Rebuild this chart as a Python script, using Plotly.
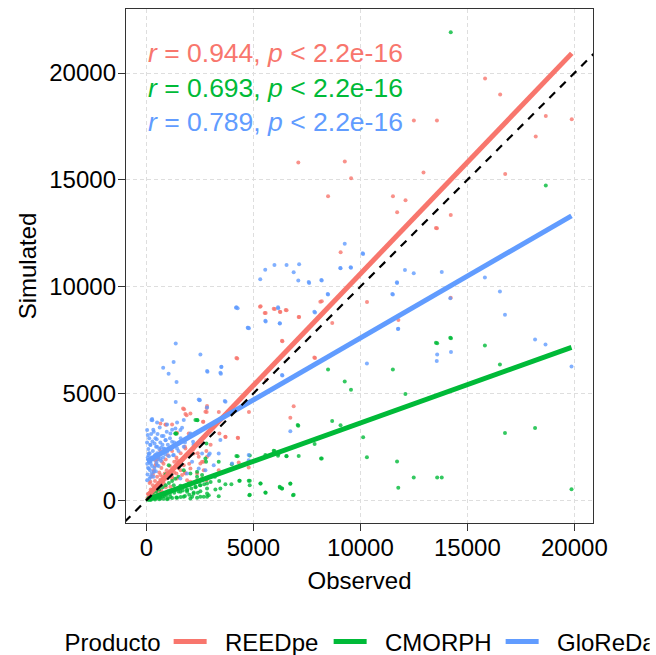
import plotly.graph_objects as go

# ---------------- data ----------------
products = ["REEDpe", "CMORPH", "GloReDa"]
colors = ["#F8766D", "#00BA38", "#619CFF"]

# REEDpe observed / simulated
reed_obs = [15826, 16531, 12499, 13576, 18664, 19877, 18194, 7098, 9270, 9564, 12949, 16766,
            8488, 11521, 12108, 11717, 14222, 13576, 9075, 10308, 8194, 5337, 5572, 6002, 6237,
            6550, 7137, 8683, 14222, 11775, 13530, 5309, 5527, 5947, 6259, 6508, 7115, 6337,
            4204, 7847, 5590, 8127, 6881, 6725, 4790, 4282, 3695, 6354, 7879, 4243,
            1760, 1877, 2815, 2815, 3383, 2658, 919, 2833, 2756, 2647, 3410, 3690, 4266,
            2833, 3378, 4313, 4780, 2600, 654, 1199, 1822, 2211, 2444, 2678, 1744, 2055,
            343, 654, 965, 1199, 187, 498, 810, 1121, 1432, 1666, 1900, 265, 654, 1277,
            420, 732, 2055, 2367, 2600, 1713, 1822, 2055, 887, 1432, 1977, 2522, 2678, 2367,
            2803, 2055, 1432, 1822,
            50, 100, 150, 200, 250, 300, 350, 400, 450, 500, 550, 600, 650, 700, 750, 800,
            850, 900, 950, 1000, 1100, 1200, 1300, 1400, 1500, 1600, 1700, 1800, 1900, 2000,
            2200, 2400, 2600, 2800, 3000, 150, 250, 350, 450, 550, 650, 300, 400, 500, 600,
            700, 800, 900, 1000, 1200, 1300, 1400, 1600, 1800, 200, 350, 500, 700, 900]
reed_sim = [19744, 18994, 17776, 17776, 17994, 17838, 17026, 15807, 15854, 15073, 15339, 15277,
            14230, 14230, 14042, 13480, 13355, 12730, 11606, 9278, 9310, 9075, 8763, 8950, 8825,
            8888, 8575, 8294, 9481, 8435, 12746, 9060, 8763, 8966, 8810, 8903, 8575, 7466,
            6654, 6685, 5623, 9294, 4393, 3863, 4128, 2913, 2960, 7446, 6651, 6636,
            4252, 3972, 4313, 4128, 4128, 3676, 3536, 4405, 4139, 3671, 3124, 2968, 2921,
            2031, 1406, 1765, 1531, 1796, 3593, 3546, 2421, 2187, 2031, 1796, 1640, 1484,
            1328, 1172, 1250, 1015, 859, 703, 781, 625, 1015, 1172, 937, 469, 391, 515,
            1874, 1796, 859, 937, 1015, 4296, 4030, 4061, 3546, 3155, 3124, 1718, 1406, 1250,
            937, 2187, 1874, 1250,
            100, 300, 200, 500, 350, 700, 450, 900, 600, 1100, 800, 1300, 950, 1500, 1100, 1700,
            1250, 1900, 1400, 2100, 1600, 2300, 1800, 2000, 1500, 2200, 1900, 2500, 2100, 1700,
            2400, 2200, 2700, 2300, 2600, 800, 1100, 1400, 1700, 2000, 2300, 1200, 1600, 1900, 800,
            700, 900, 1000, 1200, 1100, 1300, 1250, 1400, 1300, 150, 250, 400, 450, 600]

# CMORPH observed / simulated
cmorph_obs = [14222, 18664, 13530, 14200, 15818, 16520, 16756, 18162, 19865, 13587, 14233, 13587,
              13802, 12492, 11770, 11712, 12102, 11516, 10304, 10128, 8487, 9267, 9560, 8680,
              9072, 7097, 7859, 8193, 6549, 5982, 6158, 6725, 6881, 5337, 5572, 6237, 4830, 4340,
              4830, 3988, 4262, 4830, 2385, 1408, 7068, 5947, 6150, 6539, 7115, 8158, 5558, 4204,
              3378, 2787, 5325, 5558, 6228, 6337, 6726, 6850, 4780, 4826, 4359, 3970, 3690, 3456,
              3223, 2833, 2833, 2833, 3378, 4811, 2522, 1355, 2289, 1043, 1744, 2055, 2367,
              187, 498, 810, 1121, 1432, 1588, 1900, 2211, 2522, 343, 654, 965, 1744, 2055, 2367,
              2678, 2912, 1277, 1588, 1977, 2289, 2367, 1355, 2803, 2756, 2367, 2600, 1900, 2133,
              2522, 2834, 6334,
              50, 100, 150, 200, 250, 300, 350, 400, 450, 500, 550, 600, 650, 700, 750, 800, 850,
              900, 950, 1000, 1100, 1200, 1300, 1400, 1500, 1600, 1700, 1800, 1900, 2000, 2100,
              2200, 2300, 2400, 2500, 2600, 2700, 2800, 3000, 3200, 3400, 150, 300, 450, 600, 750,
              900, 1050, 1200, 1350, 1500, 200, 400, 600, 800, 1000, 1200, 1400, 1600, 1800, 2000,
              2200, 2400, 500, 700, 900]
cmorph_sim = [21915, 14730, 7373, 7607, 7243, 6355, 3147, 3380, 514, 7352, 7586, 1059,
              1059, 1059, 575, 1807, 4968, 6122, 2009, 2944, 6122, 5561, 5171, 3707,
              3505, 3489, 2632, 1947, 2056, 2305, 2150, 763, 249, 778, 343, 592, 249, 903,
              903, 1682, 2056, 2087, 3738, 3115, 3515, 2312, 2078, 2062, 2062, 1953, 2109, 2062,
              1796, 1796, 781, 359, 625, 547, 781, 234, 906, 703, 906, 750, 750, 547,
              500, 781, 547, 156, 187, 234, 703, 3124, 3749, 1640, 1406, 1250, 1093,
              312, 234, 266, 156, 109, 391, 469, 359, 422, 109, 78, 47, 156, 78, 109,
              156, 234, 703, 672, 781, 625, 3749, 3124, 2655, 1953, 1328, 1172, 391, 156,
              156, 312, 545,
              20, 60, 30, 100, 50, 130, 80, 160, 90, 200, 120, 230, 150, 280, 180, 300, 200,
              350, 240, 400, 300, 450, 350, 520, 400, 580, 450, 650, 500, 700, 550,
              800, 600, 900, 700, 950, 750, 1000, 850, 1100, 900, 200, 350, 400, 500, 600,
              700, 800, 900, 1000, 1100, 10, 30, 40, 60, 80, 100, 120, 150, 200, 250,
              300, 350, 600, 900, 1200]

# GloReDa observed / simulated
glo_obs = [9267, 5552, 5982, 6549, 7136, 5318, 6881, 7097, 7605, 8193, 9072, 9560, 10128, 12082,
           12492, 13802, 15818, 11712, 11516, 8487, 16520, 16756, 4262, 7879, 6158, 4790, 5572,
           6237, 11770, 1369, 782, 1036, 1271, 1408, 2522, 2854, 3500, 3480, 1369, 2483, 3695,
           6354, 10304, 13587, 13568, 14233, 18162, 18650, 19865, 6725, 273, 4204, 4733, 6150,
           5558, 6228, 7847, 2834, 3456, 3503, 6337, 2444, 9061, 9544, 10104, 11708, 11490,
           11755, 14200, 8174, 7582, 4188, 4749, 8470, 3659, 2833, 2958, 3378, 4001, 3145,
           4780, 4780, 2756, 3456, 265, 498, 732, 31, 343, 1121, 1744, 1355, 1588, 2055,
           2180, 887, 1199, 187, 498, 810, 109, 420, 654, 187, 498, 109, 343, 187, 31, 965,
           1277, 1432, 1744, 1900, 2133, 2444, 1588, 2491, 234, 965, 1432, 1666, 2600, 2912,
           50, 80, 120, 60, 150, 200, 250, 300, 180, 90, 350, 400, 450, 500, 550, 600, 650,
           700, 750, 800, 850, 900, 950, 1000, 1100, 1200, 1300, 130, 220, 320, 420, 520, 620,
           720, 40, 100, 170, 260, 370, 470, 570, 680, 780, 880, 30, 60, 140, 240, 330, 440,
           280, 380, 480, 580, 680, 1050, 1150, 1250, 1400, 1500, 1600, 1800, 2000, 2200, 2400]
glo_sim = [12010, 10795, 11014, 11014, 11043, 10343, 10670, 10281, 10172, 10281, 10857, 10888,
           11528, 10780, 10624, 10686, 10421, 10172, 9626, 9626, 9767, 8677, 8988, 8785, 8988,
           8053, 8365, 8271, 8022, 7336, 6199, 5920, 6465, 5529, 6823, 6012, 6230, 5920, 4594,
           4673, 4610, 5841, 6402, 6823, 6511, 6932, 7523, 7290, 6262, 3224, 3738, 9028, 8076,
           9028, 8404, 8279, 8825, 6045, 5967, 6248, 5858, 4717, 10872, 10903, 11559, 10200,
           9653, 8013, 9450, 10309, 10216, 9013, 8076, 9653, 4639, 4342, 2187, 2187, 1718, 1640,
           2109, 1874, 1406, 2812, 3796, 3640, 3749, 3280, 3202, 3124, 3749, 3358, 3280, 3124,
           2734, 2812, 2734, 2577, 2499, 2421, 2187, 2109, 1953, 1796, 1640, 1484, 1328, 1093,
           937, 2265, 2109, 2421, 2499, 1250, 1796, 1484, 1015, 4686, 3749, 3546, 3640, 3390,
           2187, 2109,
           1200, 1500, 1800, 2000, 2200, 1700, 2000, 2300, 2600, 2400, 1900, 2100, 2500, 2200,
           1900, 2400, 2700, 2200, 2600, 3000, 2400, 2800, 3200, 2600, 2900, 3300, 2700, 2900,
           3100, 3300, 2900, 3100, 3400, 3000, 1700, 2100, 1400, 1600, 1500, 1750, 1600, 1850,
           2000, 2150, 2700, 3050, 1000, 1250, 1100, 1350, 2750, 2650, 2850, 2150, 2450, 2050,
           2400, 2100, 2600, 2300, 2900, 2700, 3000, 2600, 3200]

# linear fits (intercept, slope)
fit_intercept = [150, 20, 1794]
fit_slope = [1.045, 0.359, 0.58]

# correlation labels
cor_r = ["0.944", "0.693", "0.789"]
cor_p = "2.2e-16"
label_y = [20930, 19290, 17700]

x_ticks = [0, 5000, 10000, 15000, 20000]
y_ticks = [0, 5000, 10000, 15000, 20000]
x_range = [-955, 20870]
y_range = [-1070, 23000]

obs = [reed_obs, cmorph_obs, glo_obs]
sim = [reed_sim, cmorph_sim, glo_sim]

FONT = "Liberation Sans, Arial, sans-serif"
FS = 24
NB = "\u00a0\u00a0"  # gap between legend key and label

fig = go.Figure()

# points
for i, name in enumerate(products):
    fig.add_trace(go.Scatter(
        x=obs[i], y=sim[i], mode="markers",
        marker=dict(size=4, color=colors[i], opacity=0.8, line=dict(width=0)),
        showlegend=False, hoverinfo="skip", legendgroup=name,
    ))

# regression lines
legend_widths = [112, 124, 100]
for i, name in enumerate(products):
    x0, x1 = min(obs[i]), max(obs[i])
    fig.add_trace(go.Scatter(
        x=[x0, x1],
        y=[fit_intercept[i] + fit_slope[i] * x0, fit_intercept[i] + fit_slope[i] * x1],
        mode="lines", line=dict(color=colors[i], width=5),
        name=NB + name, legendgroup=name, legendwidth=legend_widths[i],
    ))

# 1:1 line
fig.add_trace(go.Scatter(
    x=[-3000, 26000], y=[-3000, 26000], mode="lines",
    line=dict(color="black", width=2.2, dash="8px,7px"),
    showlegend=False, hoverinfo="skip",
))

for i in range(3):
    fig.add_annotation(
        x=0, y=label_y[i], xref="x", yref="y", xanchor="left", yanchor="middle",
        text=f"<i>r</i> = {cor_r[i]}, <i>p</i> &lt; {cor_p}",
        showarrow=False, font=dict(size=26.5, color=colors[i], family=FONT),
    )

axis_common = dict(
    showline=True, linecolor="#333333", linewidth=1.4, mirror=True,
    ticks="outside", ticklen=7, tickwidth=1.4, tickcolor="#333333",
    tickfont=dict(size=FS, color="black", family=FONT),
    showgrid=True, gridcolor="#dedede", gridwidth=1, griddash="4px,3px",
    zeroline=False, automargin=False,
)

fig.update_layout(
    width=656, height=655,
    margin=dict(l=126, r=63, t=9, b=132, autoexpand=False),
    paper_bgcolor="white", plot_bgcolor="white",
    font=dict(family=FONT, size=FS, color="black"),
    xaxis=dict(range=x_range, tickvals=x_ticks, ticktext=[str(v) for v in x_ticks],
               ticklabelstandoff=-4,
               title=dict(text="Observed", font=dict(size=FS), standoff=12), **axis_common),
    yaxis=dict(range=y_range, tickvals=y_ticks, ticktext=[str(v) for v in y_ticks],
               ticklabelstandoff=-3,
               title=dict(text="Simulated", font=dict(size=FS), standoff=5), **axis_common),
    legend=dict(
        orientation="h", x=-0.1358, xanchor="left", y=-0.2315, yanchor="middle",
        title=dict(text="Producto", side="left", font=dict(size=FS)),
        font=dict(size=FS), itemwidth=33, bgcolor="rgba(0,0,0,0)",
        traceorder="normal",
    ),
    showlegend=True,
)

fig.write_html("out.html", config={"displayModeBar": False},
               post_script="document.body.style.margin='0px';")
